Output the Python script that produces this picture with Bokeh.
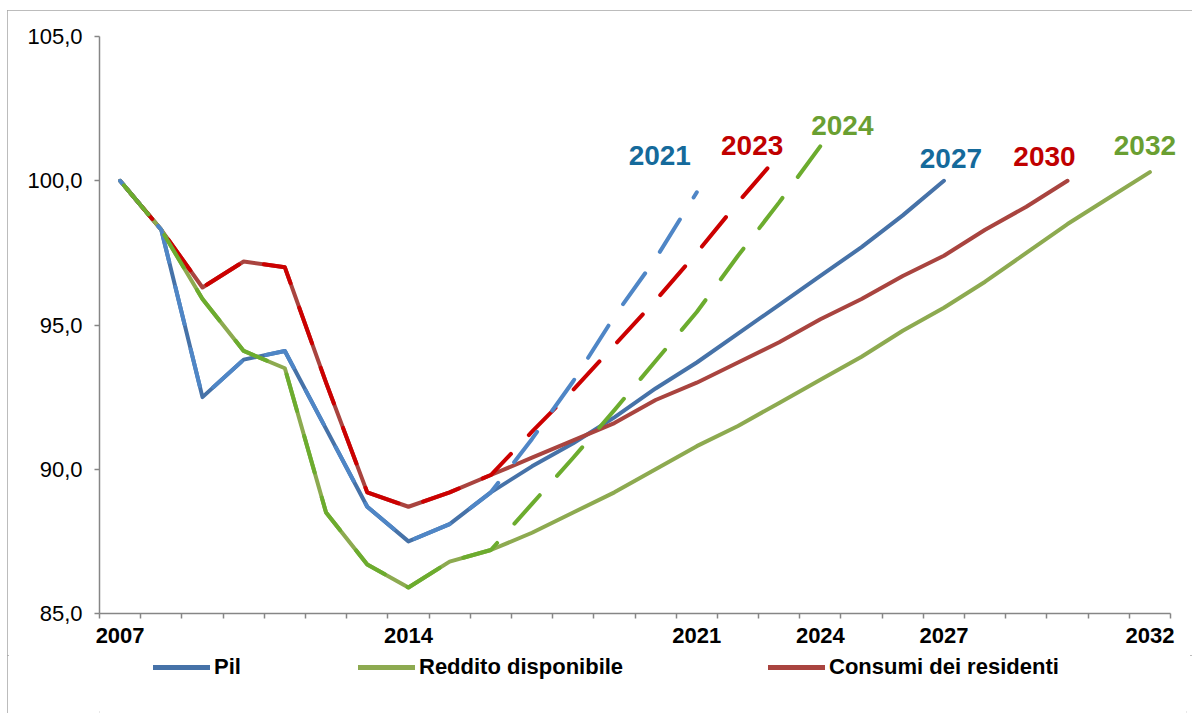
import math
from bokeh.plotting import figure
from bokeh.layouts import column
from bokeh.models import Range1d, FixedTicker, Legend, LegendItem, ColumnDataSource
from bokeh.core.properties import value
from bokeh.embed import file_html
from bokeh.resources import INLINE

# ---------------- data ----------------
years = list(range(2007, 2033))
tick_years = [2007, 2014, 2021, 2024, 2027, 2032]
y_ticks = [85, 90, 95, 100, 105]
y_tick_labels = ["85,0", "90,0", "95,0", "100,0", "105,0"]

# Pil (2007-2027)
pil = [100.0, 98.3, 92.5, 93.8, 94.1, 91.4, 88.7, 87.5, 88.1, 89.2,
       90.1, 90.9, 91.8, 92.8, 93.7, 94.7, 95.7, 96.7, 97.7, 98.8, 100.0]
# Reddito disponibile (2007-2032)
reddito = [100.0, 98.3, 95.9, 94.1, 93.5, 88.5, 86.7, 85.9, 86.8, 87.2,
           87.8, 88.5, 89.2, 90.0, 90.8, 91.5, 92.3, 93.1, 93.9, 94.8,
           95.6, 96.5, 97.5, 98.5, 99.4, 100.3]
# Consumi dei residenti (2007-2030)
consumi = [100.0, 98.3, 96.3, 97.2, 97.0, 93.0, 89.2, 88.7, 89.2, 89.8,
           90.4, 91.0, 91.6, 92.4, 93.0, 93.7, 94.4, 95.2, 95.9, 96.7,
           97.4, 98.3, 99.1, 100.0]
# faster-recovery scenarios (dashed)
pil_fast = [100.0, 98.3, 92.5, 93.8, 94.1, 91.4, 88.7, 87.5, 88.1, 89.2,
            91.05, 93.05, 95.3, 97.3, 99.6]
consumi_fast = [100.0, 98.3, 96.3, 97.2, 97.0, 93.0, 89.2, 88.7, 89.2, 89.8,
                91.3, 92.75, 94.3, 95.85, 97.5, 99.25, 100.9]
reddito_fast = [100.0, 98.3, 95.9, 94.1, 93.5, 88.5, 86.7, 85.9, 86.8, 87.2,
                88.8, 90.4, 92.05, 93.75, 95.45, 97.4, 99.25, 101.2]

series_names = ["Pil", "Reddito disponibile", "Consumi dei residenti"]
end_labels = ["2021", "2023", "2024", "2027", "2030", "2032"]

# ---------------- styles ----------------
FONT = "Liberation Sans"
c_pil, c_pil_d = "#4672A8", "#4F86C6"
c_red, c_red_d = "#8DAA50", "#6CAC2E"
c_con, c_con_d = "#A9443F", "#CC0000"
lab_colors = ["#156A9B", "#C00000", "#6A9F32", "#156A9B", "#C00000", "#6A9F32"]
lab_dx = [-37, -27, 22, 7, -23, -5]
lab_dy = [-37, -9, -21, -22, -24, -27]
axis_col = "#868686"

W, H = 1185, 645
BL, BR, BT, BB = 92, 6, 26, 42
AXIS_PX = 1071                      # pixel length of the category axis
x0, xa_end, y0, y1 = 2006.5, 2032.5, 85, 105
sx = AXIS_PX / (xa_end - x0)
x1 = x0 + (W - BL - BR) / sx        # a little room on the right for the last label

p = figure(width=W, height=H, x_range=Range1d(x0, x1),
           y_range=Range1d(y0, y1), output_backend="svg", toolbar_location=None,
           min_border_left=BL, min_border_right=BR, min_border_top=BT,
           min_border_bottom=BB)
p.outline_line_color = None
p.xgrid.visible = False
p.ygrid.visible = False

# axes
xa = p.xaxis[0]
xa.ticker = FixedTicker(ticks=tick_years,
                        minor_ticks=[y - 0.5 for y in years] + [years[-1] + 0.5])
xa.bounds = (x0, xa_end)
xa.axis_line_color = axis_col
xa.axis_line_width = 1.5
xa.major_tick_out = 0
xa.major_tick_in = 0
xa.minor_tick_out = 5
xa.minor_tick_in = 0
xa.minor_tick_line_color = axis_col
xa.minor_tick_line_width = 1.5
xa.major_label_text_font = FONT
xa.major_label_text_font_style = "bold"
xa.major_label_text_font_size = "22px"
xa.major_label_text_color = "#000000"
xa.major_label_standoff = 9

ya = p.yaxis[0]
ya.ticker = FixedTicker(ticks=y_ticks, minor_ticks=[])
ya.major_label_overrides = {t: s for t, s in zip(y_ticks, y_tick_labels)}
ya.axis_line_color = axis_col
ya.axis_line_width = 1.5
ya.major_tick_out = 5
ya.major_tick_in = 0
ya.major_tick_line_color = axis_col
ya.major_tick_line_width = 1.5
ya.minor_tick_line_color = None
ya.major_label_text_font = FONT
ya.major_label_text_font_size = "22px"
ya.major_label_text_color = "#000000"
ya.major_label_standoff = 12

common = dict(line_width=4, line_cap="round", line_join="round")
p.line(years[:len(pil)], pil, line_color=c_pil, **common)
p.line(years[:len(consumi)], consumi, line_color=c_con, **common)
p.line(years[:len(reddito)], reddito, line_color=c_red, **common)

# dashed scenario lines; dash phase chosen so each path ends as in the source
DASH_ON, DASH_OFF = 38, 26
sy = (H - BT - BB) / (y1 - y0)


def dash_offset(vals, end_phase):
    length = sum(math.hypot(sx, (b - a) * sy) for a, b in zip(vals[:-1], vals[1:]))
    return int(round((end_phase - length) % (DASH_ON + DASH_OFF)))


dash = f"{DASH_ON} {DASH_OFF}"
for vals, col, phase in [(consumi_fast, c_con_d, 56), (pil_fast, c_pil_d, 6),
                         (reddito_fast, c_red_d, 38)]:
    p.line(years[:len(vals)], vals, line_color=col, line_dash=dash,
           line_dash_offset=dash_offset(vals, phase), **common)

# end labels anchored at the last point of each path
ends = [pil_fast, consumi_fast, reddito_fast, pil, consumi, reddito]
src = ColumnDataSource(dict(
    x=[years[len(s) - 1] for s in ends],
    y=[s[-1] for s in ends],
    text=end_labels,
    color=lab_colors,
    dx=lab_dx,
    dy=lab_dy,
))
p.text(x="x", y="y", text="text", source=src, text_color="color",
       x_offset="dx", y_offset="dy", text_align="center", text_baseline="middle",
       text_font=value(FONT), text_font_style="bold", text_font_size="28px")

# legend strip under the chart (its frame lines up with the chart's frame)
LH = 58
q = figure(width=W, height=LH, x_range=Range1d(0, 1), y_range=Range1d(0, 1),
           x_axis_type=None, y_axis_type=None, output_backend="svg",
           toolbar_location=None, min_border=0)
q.outline_line_color = None
q.xgrid.visible = False
q.ygrid.visible = False
leg_x = [54, 259, 669]
for name, vals, col, lx in zip(series_names, [pil, reddito, consumi],
                               [c_pil, c_red, c_con], leg_x):
    # series drawn outside this strip's view, only its legend swatch shows
    r = q.line(years[:len(vals)], vals, line_color=col, line_width=5,
               line_cap="round")
    lg = Legend(items=[LegendItem(label=name, renderers=[r])],
                location=(lx, LH - 25), orientation="horizontal",
                glyph_width=57, glyph_height=24, label_height=24,
                label_standoff=4, padding=0, margin=0, spacing=0,
                border_line_color=None, background_fill_alpha=0,
                label_text_font=FONT, label_text_font_style="bold",
                label_text_font_size="22px", label_text_color="#000000")
    q.add_layout(lg, "center")

page = column(p, q, spacing=0,
              styles={"margin-left": "7px", "margin-top": "10px",
                      "outline": "2px solid #a6a6a6", "outline-offset": "-2px"})

open("out.html", "w").write(file_html(page, INLINE))
